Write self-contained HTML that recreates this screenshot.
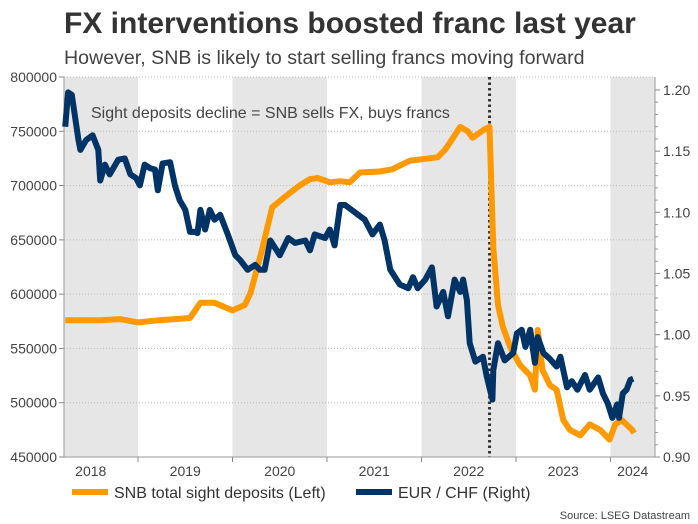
<!DOCTYPE html>
<html><head><meta charset="utf-8"><style>
body{margin:0;background:#fff;font-family:"Liberation Sans",Arial,sans-serif;}
#wrap{position:relative;width:698px;height:524px;overflow:hidden;background:#fff}
</style></head><body>
<div id="wrap">
<svg id="svg" width="698" height="524" xmlns="http://www.w3.org/2000/svg">
<text x="64" y="33" font-size="30" font-weight="bold" fill="#333">FX interventions boosted franc last year</text>
<text x="64" y="64" font-size="19.6" fill="#444">However, SNB is likely to start selling francs moving forward</text>
<g id="bg"></g><g id="grid"></g><g id="axes"></g><g id="series"></g>
<text x="91" y="118" font-size="16" fill="#444">Sight deposits decline = SNB sells FX, buys francs</text>
<g>
<line x1="72" y1="492" x2="108" y2="492" stroke="#ff9900" stroke-width="6"/>
<text x="114" y="498" font-size="16" fill="#333">SNB total sight deposits (Left)</text>
<line x1="356" y1="492" x2="392" y2="492" stroke="#003366" stroke-width="6"/>
<text x="398" y="498" font-size="16" fill="#333">EUR / CHF (Right)</text>
</g>
<text x="690" y="519" font-size="11" fill="#444" text-anchor="end">Source: LSEG Datastream</text>
</svg>
</div>
<script>
const leftTicks=[450000,500000,550000,600000,650000,700000,750000,800000];
const rightTicks=[0.90,0.95,1.00,1.05,1.10,1.15,1.20];
const years=[2018,2019,2020,2021,2022,2023,2024];
const shadedYears=[2018,2020,2022,2024];
const eventDate=[2022.72];
const depDates=[2018.23,2018.60,2018.81,2019.0,2019.23,2019.55,2019.66,2019.81,2020.0,2020.13,2020.19,2020.31,2020.42,2020.56,2020.71,2020.82,2020.90,2021.03,2021.14,2021.24,2021.35,2021.56,2021.69,2021.88,2022.17,2022.25,2022.32,2022.41,2022.49,2022.54,2022.67,2022.72,2022.76,2022.81,2022.86,2022.94,2023.04,2023.15,2023.20,2023.23,2023.28,2023.36,2023.43,2023.50,2023.57,2023.68,2023.78,2023.89,2023.99,2024.05,2024.12,2024.23,2024.25];
const depVals=[576,576,577,574,576,578,592,592,585,590,601,640,680,690,700,706,707,703,704,703,712,713,715,723,726,733,742,754,750,744,752,754,643,590,570,551,535,525,512,567,530,516,512,484,475,470,480,475,466,480,484,475,472];
const fxDates=[2018.23,2018.26,2018.30,2018.37,2018.39,2018.45,2018.52,2018.58,2018.60,2018.65,2018.70,2018.79,2018.86,2018.92,2018.98,2019.02,2019.07,2019.13,2019.18,2019.21,2019.26,2019.34,2019.39,2019.44,2019.50,2019.55,2019.60,2019.63,2019.66,2019.71,2019.76,2019.81,2019.87,2019.95,2020.03,2020.08,2020.16,2020.24,2020.29,2020.34,2020.40,2020.50,2020.59,2020.66,2020.77,2020.82,2020.87,2020.98,2021.03,2021.08,2021.14,2021.19,2021.26,2021.33,2021.40,2021.48,2021.56,2021.61,2021.67,2021.77,2021.86,2021.91,2021.96,2022.04,2022.11,2022.16,2022.23,2022.28,2022.35,2022.41,2022.44,2022.48,2022.51,2022.57,2022.65,2022.69,2022.75,2022.76,2022.81,2022.88,2022.97,2023.01,2023.06,2023.10,2023.15,2023.20,2023.23,2023.29,2023.36,2023.43,2023.47,2023.54,2023.59,2023.65,2023.73,2023.78,2023.87,2023.92,2023.97,2024.02,2024.07,2024.09,2024.13,2024.17,2024.21,2024.24];
const fxVals=[1.170,1.198,1.196,1.159,1.151,1.159,1.163,1.151,1.126,1.139,1.131,1.143,1.144,1.131,1.128,1.122,1.139,1.136,1.135,1.118,1.140,1.141,1.122,1.110,1.102,1.084,1.084,1.083,1.102,1.086,1.102,1.094,1.098,1.082,1.065,1.061,1.053,1.057,1.053,1.053,1.077,1.065,1.079,1.075,1.077,1.069,1.082,1.079,1.086,1.073,1.106,1.106,1.102,1.098,1.094,1.082,1.090,1.077,1.053,1.041,1.038,1.047,1.038,1.045,1.055,1.023,1.035,1.015,1.045,1.035,1.045,1.028,0.993,0.978,0.982,0.966,0.947,0.971,0.993,0.979,0.985,1.001,1.004,0.990,1.004,0.977,0.998,0.985,0.980,0.974,0.982,0.957,0.962,0.955,0.967,0.955,0.965,0.952,0.944,0.932,0.943,0.932,0.952,0.955,0.963,0.964];

const L=64,R=655,T=77,B=457;
const x=t=>138+(t-2019)*94.5;
const yl=v=>B-(v-450000)/350000*(B-T);
const yr=v=>457-(v-0.90)/0.30*(457-90);
const NS="http://www.w3.org/2000/svg";
function mk(tag,attrs,parent){const e=document.createElementNS(NS,tag);for(const k in attrs)e.setAttribute(k,attrs[k]);document.getElementById(parent).appendChild(e);return e;}
shadedYears.forEach(yv=>{
 const x0=Math.max(L,x(yv)),x1=Math.min(R,x(yv+1));
 const r=mk('rect',{x:x0,y:T,width:x1-x0,height:B-T,fill:'#e6e6e6'},'bg');
 
 
});
leftTicks.forEach(v=>{
 const g=mk('line',{x1:L,x2:R,y1:yl(v),y2:yl(v),stroke:'#bbb','stroke-dasharray':'1,2'},'grid');
 
 
 const t=mk('text',{x:57,y:yl(v)+5,'font-size':14,fill:'#444','text-anchor':'end'},'axes');
 t.textContent=v;
 
 
 mk('line',{x1:L-5,x2:L,y1:yl(v),y2:yl(v),stroke:'#888'},'axes');
});
rightTicks.forEach(v=>{
 const t=mk('text',{x:663,y:yr(v)+5,'font-size':14,fill:'#444'},'axes');
 t.textContent=v.toFixed(2);
 
 
 mk('line',{x1:R,x2:R+5,y1:yr(v),y2:yr(v),stroke:'#888'},'axes');
});
for(let v=0.90;v<1.2;v+=0.01){mk('line',{x1:R,x2:R+3,y1:yr(v),y2:yr(v),stroke:'#999'},'axes');}
years.forEach(yv=>{
 const t=mk('text',{x:Math.min(x(yv+0.5),x(yv)+(R-x(yv))/2),y:476,'font-size':14,fill:'#444','text-anchor':'middle'},'axes');
 t.textContent=yv;
 
 
 if(yv>2018)mk('line',{x1:x(yv),x2:x(yv),y1:B,y2:B+5,stroke:'#888'},'axes');
});
const la=mk('line',{x1:L,x2:L,y1:T,y2:B,stroke:'#999'},'axes');

const ra=mk('line',{x1:R,x2:R,y1:T,y2:B,stroke:'#999'},'axes');

mk('line',{x1:L,x2:R,y1:B,y2:B,stroke:'#999'},'axes');
const ev=mk('line',{x1:x(eventDate[0]),x2:x(eventDate[0]),y1:T,y2:B,stroke:'#333','stroke-width':3,'stroke-dasharray':'2.5,3'},'series');


const dp=mk('path',{d:depDates.map((d,i)=>(i?'L':'M')+x(d).toFixed(1)+','+yl(depVals[i]*1000).toFixed(1)).join(''),fill:'none',stroke:'#ff9900','stroke-width':6,'stroke-linejoin':'round'},'series');


const fp=mk('path',{d:fxDates.map((d,i)=>(i?'L':'M')+x(d).toFixed(1)+','+yr(fxVals[i]).toFixed(1)).join(''),fill:'none',stroke:'#003366','stroke-width':6,'stroke-linejoin':'round'},'series');


</script>
</body></html>
